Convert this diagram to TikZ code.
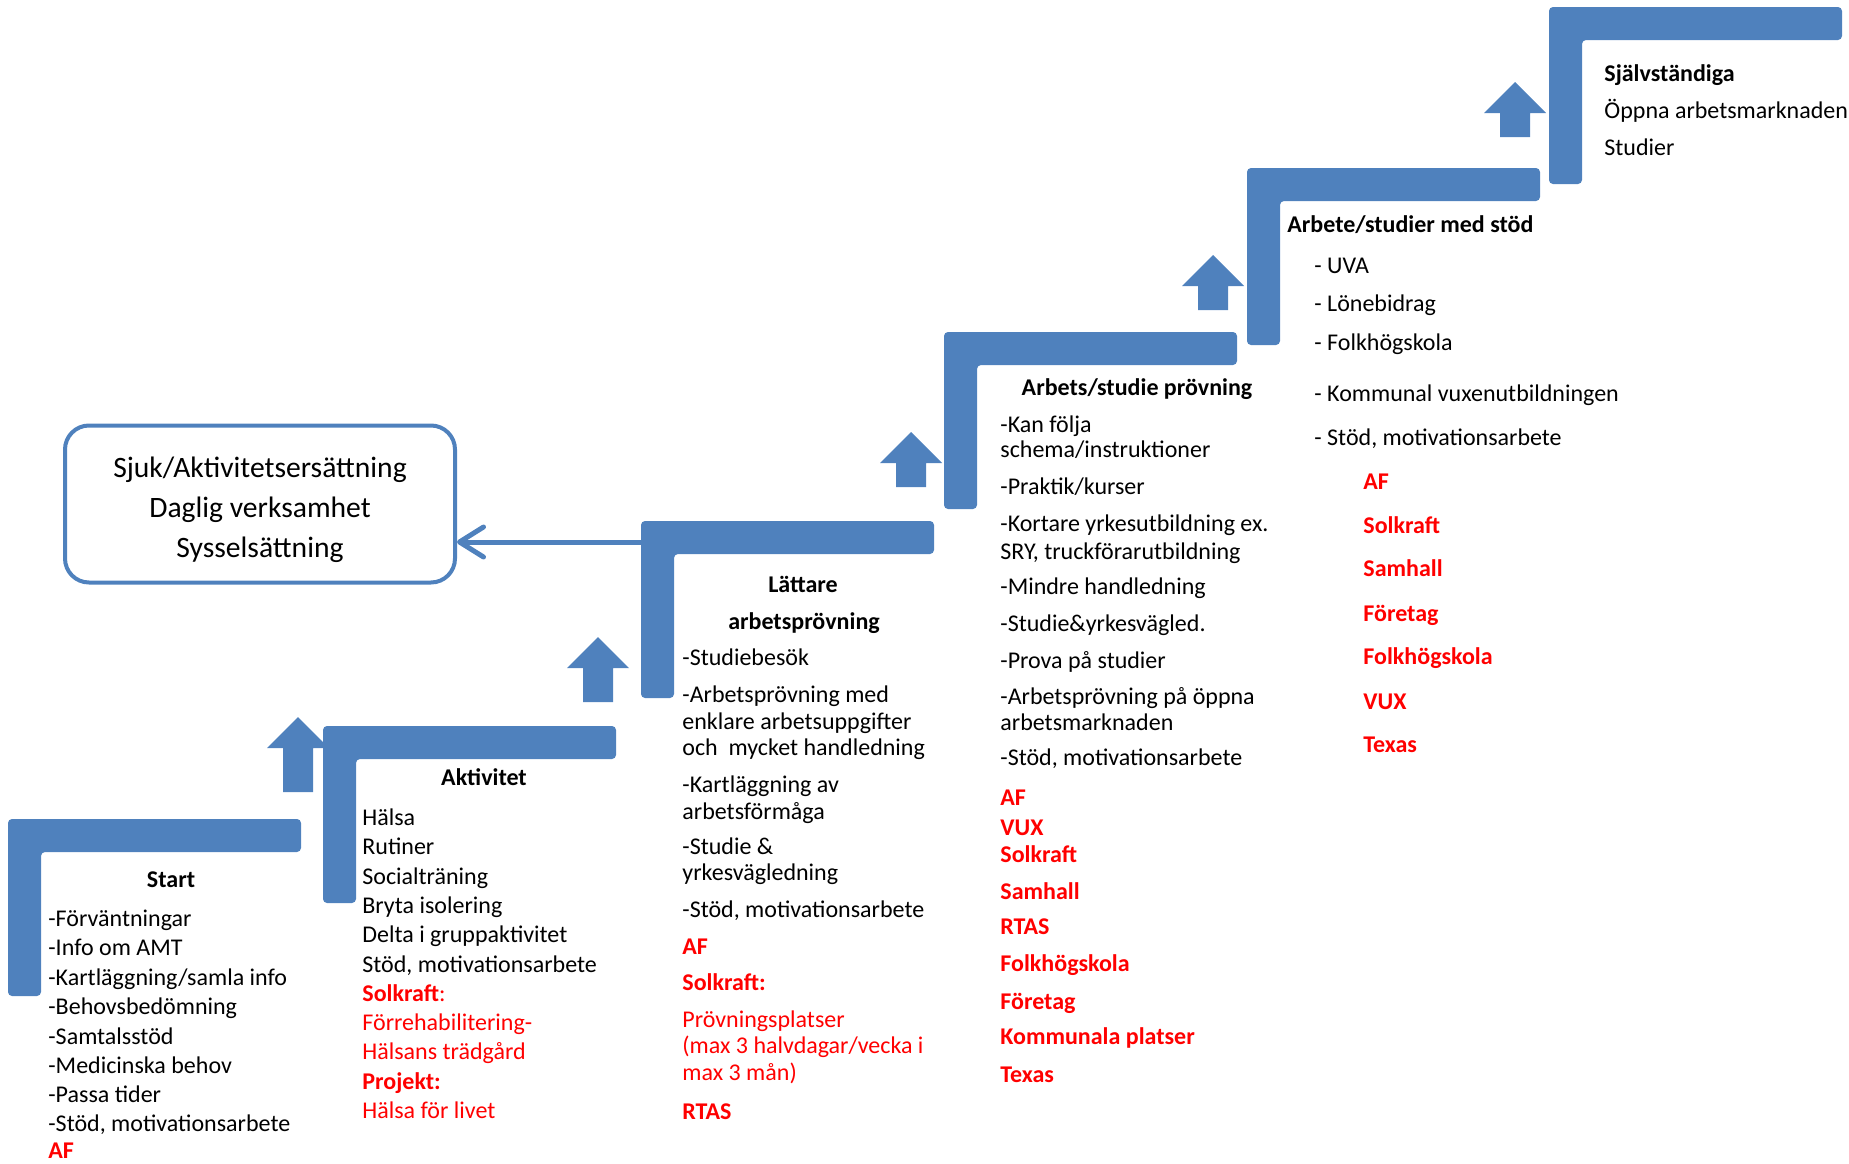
\documentclass[tikz,border=0pt]{standalone}
\usepackage{fontspec}
\setmainfont{Carlito}
\usepackage{tikz}
\usetikzlibrary{positioning}
\usetikzlibrary{arrows.meta}
\definecolor{stairblue}{HTML}{4F81BD}
\definecolor{listred}{HTML}{FF0000}
\tikzset{
  txt/.style={inner sep=0pt, anchor=base west, font=\fontsize{12}{14.7}\selectfont},
  hd/.style={inner sep=0pt, anchor=base, font=\fontsize{12}{14.7}\selectfont\bfseries},
  hdl/.style={hd, anchor=base west},
  rd/.style={txt, text=listred, font=\fontsize{12}{14.7}\selectfont\bfseries},
  rn/.style={txt, text=listred},
  outbox/.style={draw=stairblue, line width=2pt, rounded corners=12pt, align=center,
    minimum width=195pt, minimum height=78.5pt, inner sep=0pt,
    font=\fontsize{14.8}{20}\selectfont},
}

\begin{document}
\begin{tikzpicture}[x=0.5pt,y=-0.5pt]
\useasboundingbox (0,0) rectangle (1849,1163);

% ---------- Up arrows ----------
\foreach \cx/\tip/\bot in {298/717/792, 598/637/702, 911/432/487, 1213/255/310, 1515/82/137}{
  \fill[stairblue] (\cx,\tip) -- (\cx+31,\tip+31) -- (\cx+15,\tip+31) -- (\cx+15,\bot)
    -- (\cx-15,\bot) -- (\cx-15,\tip+31) -- (\cx-31,\tip+31) -- cycle;
}

% ---------- Box and arrow back ----------
\node[outbox] (sjuk) at (260,504) {\rule{0pt}{16pt}Sjuk/Aktivitetsersättning\\Daglig verksamhet\\Sysselsättning};
\coordinate (lat-in) at (641,542);
\draw[stairblue, line width=2.5pt, line cap=round,
  -{Straight Barb[length=12pt,width=15pt,round]}] (lat-in) -- (lat-in -| sjuk.east);

% ---------- Steps ----------
\foreach \x/\y in {8/819, 323/726, 641/521, 944/332, 1247/168, 1549/7}{
  \fill[stairblue, rounded corners=2] (\x,\y) -- ++(293,0) -- ++(0,33) -- ++(-260,0)
    -- ++(0,144) -- ++(-33,0) -- cycle;
}

% ---------- Start ----------
\node[hd] (start-h) at (171,887) {Start};
\foreach \y/\s/\t [count=\i] in {
  926/txt/{-Förväntningar}, 955/txt/{-Info om AMT}, 985/txt/{-Kartläggning/samla info},
  1014/txt/{-Behovsbedömning}, 1044/txt/{-Samtalsstöd}, 1073/txt/{-Medicinska behov},
  1102/txt/{-Passa tider}, 1131/txt/{-Stöd, motivationsarbete}, 1158/rd/{AF}
}{
  \node[\s] (start-\i) at (48,\y) {\t};
}

% ---------- Aktivitet ----------
\node[hd] (akt-h) at (484,785) {Aktivitet};
\foreach \y/\s/\t [count=\i] in {
  825/txt/{Hälsa}, 854/txt/{Rutiner}, 884/txt/{Socialträning}, 913/txt/{Bryta isolering},
  942/txt/{Delta i gruppaktivitet}, 972/txt/{Stöd, motivationsarbete},
  1001/rn/{{\bfseries Solkraft}:}, 1030/rn/{Förrehabilitering-}, 1059/rn/{Hälsans trädgård},
  1089/rd/{Projekt:}, 1118/rn/{Hälsa för livet}
}{
  \node[\s] (akt-\i) at (362,\y) {\t};
}

% ---------- Lättare arbetsprövning ----------
\node[hd] (latt-h1) at (803,592) {Lättare};
\node[hd] (latt-h2) at (804,629) {arbetsprövning};
\foreach \y/\s/\t [count=\i] in {
  665/txt/{-Studiebesök}, 702/txt/{-Arbetsprövning med}, 729/txt/{enklare arbetsuppgifter},
  755/txt/{och\ \ mycket handledning}, 792/txt/{-Kartläggning av}, 819/txt/{arbetsförmåga},
  854/txt/{-Studie \&}, 880/txt/{yrkesvägledning}, 917/txt/{-Stöd, motivationsarbete},
  954/rd/{AF}, 990/rd/{Solkraft:}, 1027/rn/{Prövningsplatser},
  1053/rn/{(max 3 halvdagar/vecka i}, 1080/rn/{max 3 mån)}, 1119/rd/{RTAS}
}{
  \node[\s] (latt-\i) at (682,\y) {\t};
}

% ---------- Arbets/studie prövning ----------
\node[hd] (prov-h) at (1137,395) {Arbets/studie prövning};
\foreach \y/\s/\t [count=\i] in {
  432/txt/{-Kan följa}, 457/txt/{schema/instruktioner}, 494/txt/{-Praktik/kurser},
  531/txt/{-Kortare yrkesutbildning ex.}, 559/txt/{SRY, truckförarutbildning},
  594/txt/{-Mindre handledning}, 631/txt/{-Studie\&yrkesvägled.}, 668/txt/{-Prova på studier},
  704/txt/{-Arbetsprövning på öppna}, 730/txt/{arbetsmarknaden}, 765/txt/{-Stöd, motivationsarbete},
  805/rd/{AF}, 835/rd/{VUX}, 862/rd/{Solkraft}, 899/rd/{Samhall}, 934/rd/{RTAS},
  971/rd/{Folkhögskola}, 1009/rd/{Företag}, 1044/rd/{Kommunala platser}, 1082/rd/{Texas}
}{
  \node[\s] (prov-\i) at (1000,\y) {\t};
}

% ---------- Arbete/studier med stöd ----------
\node[hdl] (stod-h) at (1287,232) {Arbete/studier med stöd};
\foreach \y/\t [count=\i] in {
  273/{- UVA}, 311/{- Lönebidrag}, 350/{- Folkhögskola},
  401/{- Kommunal vuxenutbildningen}, 445/{- Stöd, motivationsarbete}
}{
  \node[txt] (stod-\i) at (1314,\y) {\t};
}
\foreach \y/\t [count=\i] in {
  489/AF, 533/Solkraft, 576/Samhall, 621/Företag, 664/Folkhögskola, 709/VUX, 752/Texas
}{
  \node[rd] (stod-r\i) at (1363,\y) {\t};
}

% ---------- Självständiga ----------
\node[hdl] (self-h) at (1604,81) {Självständiga};
\node[txt] (self-1) at (1604,118) {Öppna arbetsmarknaden};
\node[txt] (self-2) at (1604,155) {Studier};

\end{tikzpicture}
\end{document}
